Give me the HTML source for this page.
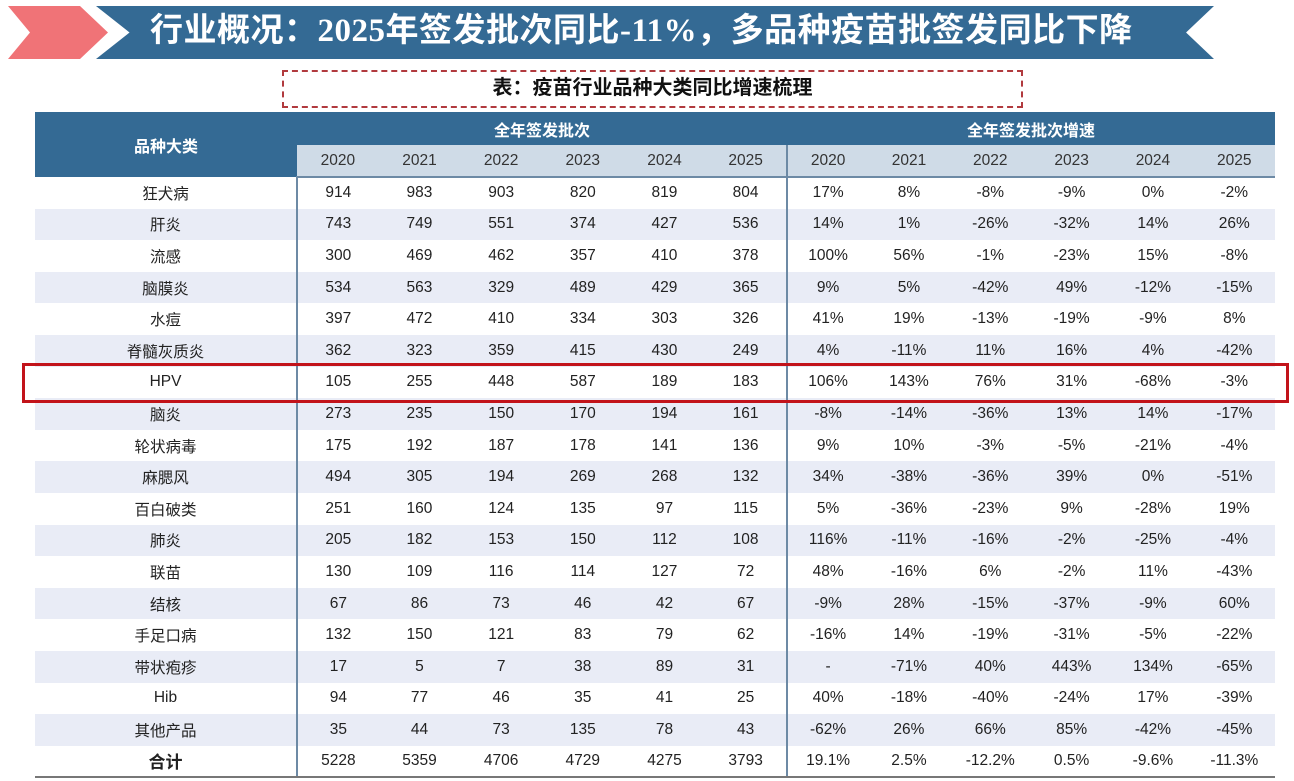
<!DOCTYPE html>
<html><head><meta charset="utf-8"><style>
*{margin:0;padding:0;box-sizing:border-box}
body{width:1294px;height:781px;background:#fff;position:relative;overflow:hidden;font-family:"Liberation Sans","Noto Sans CJK SC",sans-serif;color:#222}
.chev{position:absolute;left:8px;top:6px;width:100px;height:53px;background:#f07377;clip-path:polygon(0 0,72% 0,100% 50%,72% 100%,0 100%,22% 50%)}
.banner{position:absolute;left:96px;top:6px;width:1118px;height:53px;background:#346a94;clip-path:polygon(0 0,100% 0,97.5% 50%,100% 100%,0 100%,3% 50%)}
.title{position:absolute;left:150px;top:5px;height:53px;line-height:53px;color:#fff;font-size:33px;font-weight:bold;font-family:"Liberation Serif","Noto Sans CJK SC",sans-serif;letter-spacing:0.5px;white-space:nowrap}
.cap{position:absolute;left:282px;top:70px;width:741px;height:38px;border:2.5px dashed #b13a3e;text-align:center;line-height:33px;font-size:20px;font-weight:bold;color:#111}
table{position:absolute;left:35px;top:112px;border-collapse:collapse;table-layout:fixed;width:1240px}
td{text-align:center;font-size:15.5px;height:31.6px;padding:0}
tr.h1 td{background:#346a94;color:#fff;font-weight:bold;height:33px;font-size:16px}
tr.h2 td{background:#cfdbe7;height:32px;color:#333;border-bottom:2px solid #6d8aa5}
tr.alt td{background:#e9ecf6}
.sep{border-right:2px solid #6d8aa5}
tr.tot td{border-bottom:2px solid #777;font-weight:normal}
.hpv{position:absolute;left:22px;top:363px;width:1267px;height:40px;border:3.5px solid #c2131a}
</style></head><body>
<div class="chev"></div><div class="banner"></div>
<div class="title">行业概况：2025年签发批次同比-11%，多品种疫苗批签发同比下降</div>
<div class="cap">表：疫苗行业品种大类同比增速梳理</div>
<table>
<colgroup><col style="width:262px"><col span="6" style="width:81.67px"><col span="6" style="width:81.33px"></colgroup>
<tr class="h1"><td rowspan="2" style="background:#346a94;color:#fff">品种大类</td><td colspan="6">全年签发批次</td><td colspan="6">全年签发批次增速</td></tr>
<tr class="h2"><td>2020</td><td>2021</td><td>2022</td><td>2023</td><td>2024</td><td class="sep">2025</td><td>2020</td><td>2021</td><td>2022</td><td>2023</td><td>2024</td><td>2025</td></tr>
<tr><td class="sep">狂犬病</td><td>914</td><td>983</td><td>903</td><td>820</td><td>819</td><td class="sep">804</td><td>17%</td><td>8%</td><td>-8%</td><td>-9%</td><td>0%</td><td>-2%</td></tr>
<tr class="alt"><td class="sep">肝炎</td><td>743</td><td>749</td><td>551</td><td>374</td><td>427</td><td class="sep">536</td><td>14%</td><td>1%</td><td>-26%</td><td>-32%</td><td>14%</td><td>26%</td></tr>
<tr><td class="sep">流感</td><td>300</td><td>469</td><td>462</td><td>357</td><td>410</td><td class="sep">378</td><td>100%</td><td>56%</td><td>-1%</td><td>-23%</td><td>15%</td><td>-8%</td></tr>
<tr class="alt"><td class="sep">脑膜炎</td><td>534</td><td>563</td><td>329</td><td>489</td><td>429</td><td class="sep">365</td><td>9%</td><td>5%</td><td>-42%</td><td>49%</td><td>-12%</td><td>-15%</td></tr>
<tr><td class="sep">水痘</td><td>397</td><td>472</td><td>410</td><td>334</td><td>303</td><td class="sep">326</td><td>41%</td><td>19%</td><td>-13%</td><td>-19%</td><td>-9%</td><td>8%</td></tr>
<tr class="alt"><td class="sep">脊髓灰质炎</td><td>362</td><td>323</td><td>359</td><td>415</td><td>430</td><td class="sep">249</td><td>4%</td><td>-11%</td><td>11%</td><td>16%</td><td>4%</td><td>-42%</td></tr>
<tr><td class="sep">HPV</td><td>105</td><td>255</td><td>448</td><td>587</td><td>189</td><td class="sep">183</td><td>106%</td><td>143%</td><td>76%</td><td>31%</td><td>-68%</td><td>-3%</td></tr>
<tr class="alt"><td class="sep">脑炎</td><td>273</td><td>235</td><td>150</td><td>170</td><td>194</td><td class="sep">161</td><td>-8%</td><td>-14%</td><td>-36%</td><td>13%</td><td>14%</td><td>-17%</td></tr>
<tr><td class="sep">轮状病毒</td><td>175</td><td>192</td><td>187</td><td>178</td><td>141</td><td class="sep">136</td><td>9%</td><td>10%</td><td>-3%</td><td>-5%</td><td>-21%</td><td>-4%</td></tr>
<tr class="alt"><td class="sep">麻腮风</td><td>494</td><td>305</td><td>194</td><td>269</td><td>268</td><td class="sep">132</td><td>34%</td><td>-38%</td><td>-36%</td><td>39%</td><td>0%</td><td>-51%</td></tr>
<tr><td class="sep">百白破类</td><td>251</td><td>160</td><td>124</td><td>135</td><td>97</td><td class="sep">115</td><td>5%</td><td>-36%</td><td>-23%</td><td>9%</td><td>-28%</td><td>19%</td></tr>
<tr class="alt"><td class="sep">肺炎</td><td>205</td><td>182</td><td>153</td><td>150</td><td>112</td><td class="sep">108</td><td>116%</td><td>-11%</td><td>-16%</td><td>-2%</td><td>-25%</td><td>-4%</td></tr>
<tr><td class="sep">联苗</td><td>130</td><td>109</td><td>116</td><td>114</td><td>127</td><td class="sep">72</td><td>48%</td><td>-16%</td><td>6%</td><td>-2%</td><td>11%</td><td>-43%</td></tr>
<tr class="alt"><td class="sep">结核</td><td>67</td><td>86</td><td>73</td><td>46</td><td>42</td><td class="sep">67</td><td>-9%</td><td>28%</td><td>-15%</td><td>-37%</td><td>-9%</td><td>60%</td></tr>
<tr><td class="sep">手足口病</td><td>132</td><td>150</td><td>121</td><td>83</td><td>79</td><td class="sep">62</td><td>-16%</td><td>14%</td><td>-19%</td><td>-31%</td><td>-5%</td><td>-22%</td></tr>
<tr class="alt"><td class="sep">带状疱疹</td><td>17</td><td>5</td><td>7</td><td>38</td><td>89</td><td class="sep">31</td><td>-</td><td>-71%</td><td>40%</td><td>443%</td><td>134%</td><td>-65%</td></tr>
<tr><td class="sep">Hib</td><td>94</td><td>77</td><td>46</td><td>35</td><td>41</td><td class="sep">25</td><td>40%</td><td>-18%</td><td>-40%</td><td>-24%</td><td>17%</td><td>-39%</td></tr>
<tr class="alt"><td class="sep">其他产品</td><td>35</td><td>44</td><td>73</td><td>135</td><td>78</td><td class="sep">43</td><td>-62%</td><td>26%</td><td>66%</td><td>85%</td><td>-42%</td><td>-45%</td></tr>
<tr class="tot"><td class="sep" style="font-weight:bold;font-size:17px">合计</td><td>5228</td><td>5359</td><td>4706</td><td>4729</td><td>4275</td><td class="sep">3793</td><td>19.1%</td><td>2.5%</td><td>-12.2%</td><td>0.5%</td><td>-9.6%</td><td>-11.3%</td></tr>
</table>
<div class="hpv"></div>
</body></html>
